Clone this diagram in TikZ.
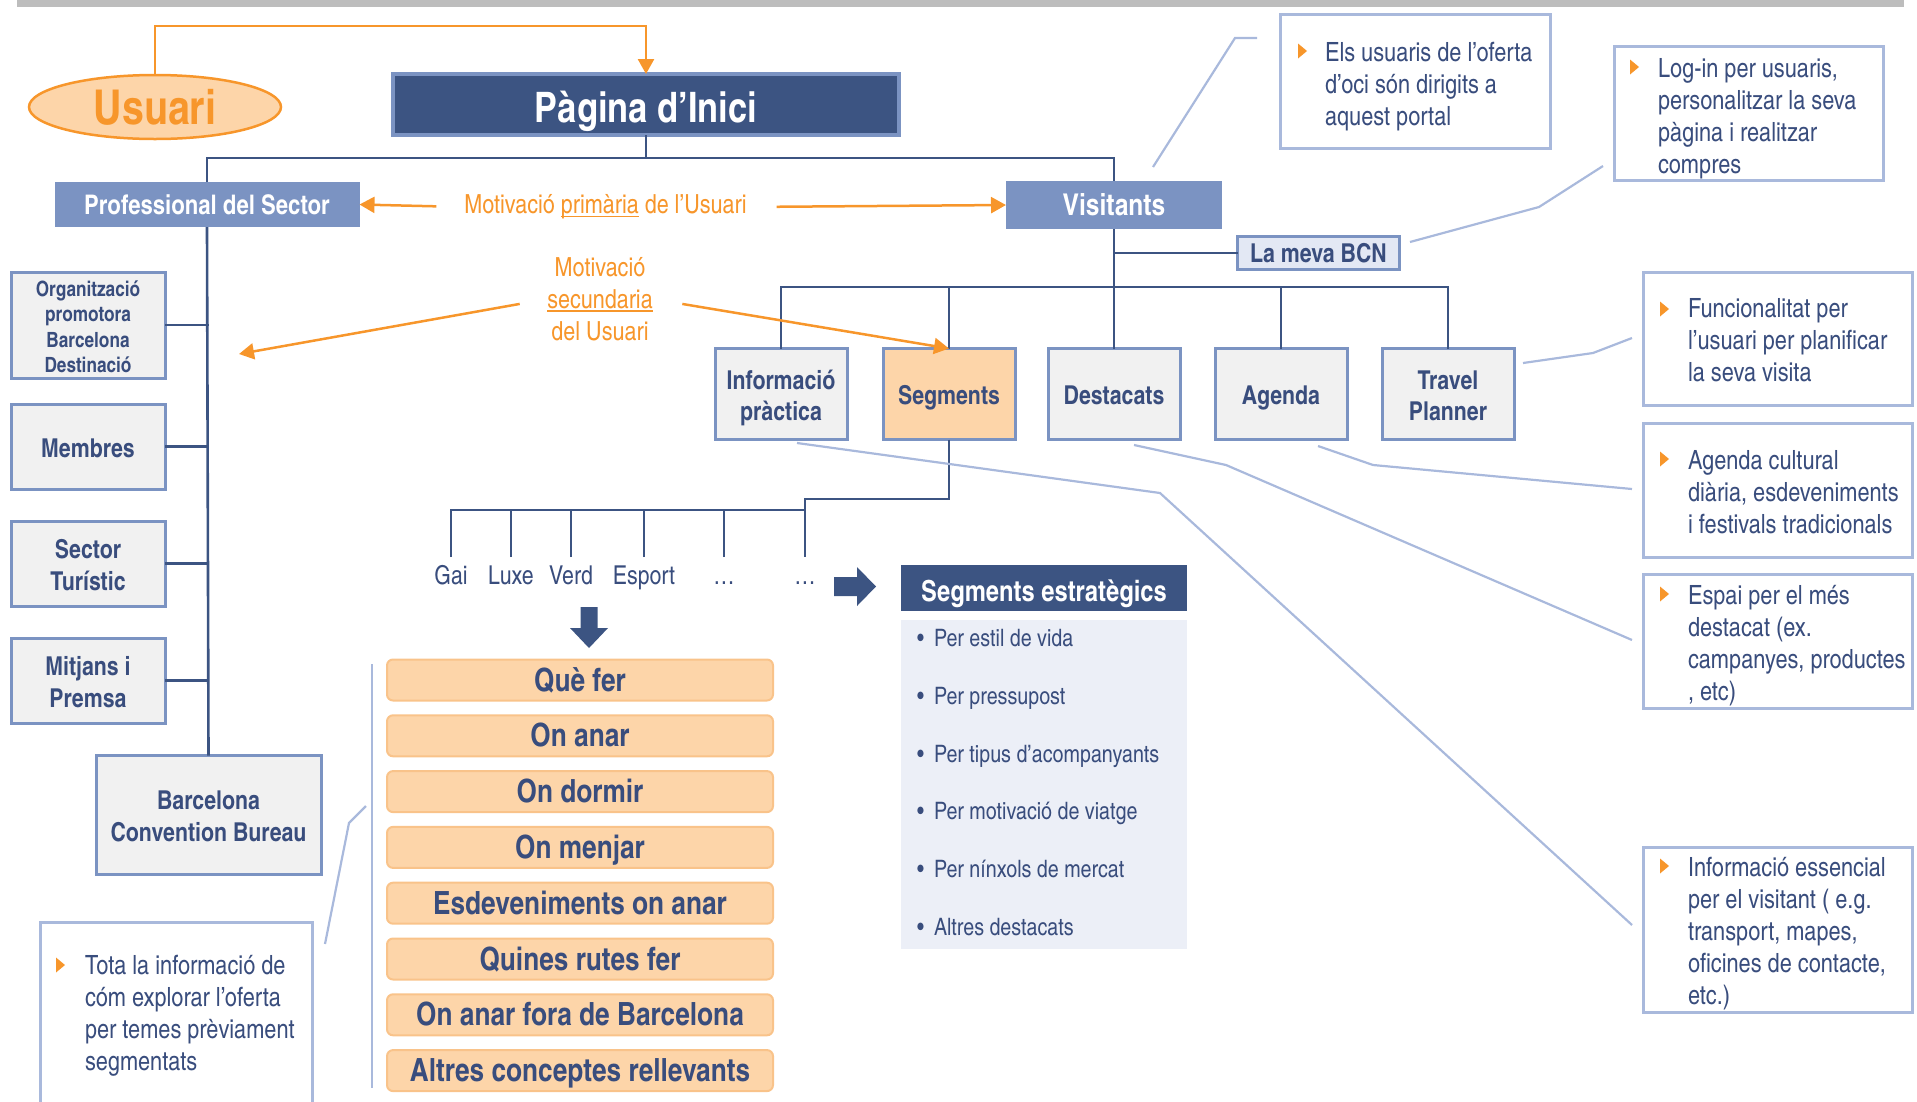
\documentclass[tikz,border=0pt]{standalone}
\usepackage{fontspec}
\setmainfont{texgyreheroscn}[Extension=.otf,UprightFont=*-regular,BoldFont=*-bold,ItalicFont=*-italic,BoldItalicFont=*-bolditalic]
\usetikzlibrary{arrows.meta,shapes.geometric}
\definecolor{navy}{HTML}{3C5482}
\definecolor{midblue}{HTML}{7B93C2}
\definecolor{paleblue}{HTML}{A9B9DC}
\definecolor{panelfill}{HTML}{ECEFF7}
\definecolor{boxfill}{HTML}{F1F1F1}
\definecolor{lavender}{HTML}{E3E8F4}
\definecolor{orng}{HTML}{F7962B}
\definecolor{peach}{HTML}{FDD5A9}
\definecolor{peachedge}{HTML}{F9C38A}
\definecolor{ink}{HTML}{394D7D}
\definecolor{bargray}{HTML}{BDBDBD}
\newcommand{\fsz}[2]{\fontsize{#1}{#2}\selectfont}
% underline drawn just under the baseline
\newcommand{\undl}[1]{\setbox0\hbox{#1}\rlap{\rule[-3.5pt]{\wd0}{1.8pt}}\box0\relax}
% fixed line extents so box labels sit at the same height
\newcommand{\toprl}{\rule{0pt}{28pt}}
\newcommand{\botrl}{\rule[-7pt]{0pt}{7pt}}
\newcommand{\toprls}{\rule{0pt}{24pt}}
\newcommand{\botrls}{\rule[-5.5pt]{0pt}{5.5pt}}
\tikzset{
  every node/.style={inner sep=0pt, outer sep=0pt},
  linkline/.style={draw=navy, line width=2.6pt},
  leadline/.style={draw=paleblue, line width=2.2pt},
  motive/.style={draw=orng, line width=2.5pt, -{Triangle[length=15pt,width=16pt]}},
  motivetext/.style={text=orng, font=\fsz{26.3}{32}, align=center},
  tier/.style={fill=midblue, text=white, font=\bfseries\fsz{27}{32}},
  orgbox/.style={draw=midblue, line width=3pt, fill=boxfill, text=ink, font=\bfseries\fsz{26}{32}, align=center},
  childbox/.style={orgbox, minimum width=132pt, minimum height=91pt, font=\bfseries\fsz{26}{31}},
  topicbar/.style={draw=peachedge, line width=2pt, fill=peach, rounded corners=6pt, minimum width=386pt, minimum height=41pt, text=ink, font=\bfseries\fsz{32}{36}, text height=26pt, text depth=4pt},
  calloutbox/.style={draw=paleblue, line width=3pt},
  callouttext/.style={anchor=north west, align=left, text=ink, font=\fsz{26.5}{32}},
  seglabel/.style={text=ink, font=\fsz{26}{31}, text height=18pt, text depth=6pt, inner ysep=9pt},
  segitem/.style={anchor=west, text=ink, font=\fsz{24}{28}, text height=17pt, text depth=5pt},
  tick/.pic={\fill[orng] (-4,-7.5) -- (5,0) -- (-4,7.5) -- cycle;}
}
\begin{document}
\begin{tikzpicture}[x=1pt, y=-1pt]
\useasboundingbox (0,0) rectangle (1917,1101);
\fill[bargray] (17,0) rectangle (1904,7);

% ---------- top level ----------
\node[ellipse, draw=orng, line width=2.5pt, fill=peach, minimum width=252pt, minimum height=64pt,
      text=orng, font=\bfseries\fsz{48}{52}] (usr) at (155,107) {Usuari};
\node[draw=midblue, line width=3.5pt, fill=navy, minimum width=506pt, minimum height=61pt,
      text=white, font=\bfseries\fsz{42}{48}, text height=38pt, text depth=3pt] (home) at (646,104.5) {Pàgina d’Inici};
\coordinate (loop) at (155,26);
\draw[motive] (usr.north) -- (loop) -| (home.north);

\node[tier, minimum width=305pt, minimum height=45pt] (prof) at (207,204.5) {Professional del Sector};
\node[tier, minimum width=216pt, minimum height=48pt, font=\bfseries\fsz{30}{34}] (vis) at (1114,205) {Visitants};
\coordinate (hub) at (646,158);
\draw[linkline] (home.south) -- (hub);
\draw[linkline] (prof.north) |- (hub) -| (vis.north);

% ---------- professional branch ----------
\node[orgbox, minimum width=154pt, minimum height=106pt, font=\bfseries\fsz{21}{25.5}] (org) at (88,325) {\toprls Organització\\promotora\\Barcelona\\Destinació\botrls};
\node[orgbox, minimum width=154pt, minimum height=85pt] (memb) at (88,446.5) {\toprl Membres\botrl};
\node[orgbox, minimum width=154pt, minimum height=85pt] (sect) at (88,563.5) {\toprl Sector\\Turístic\botrl};
\node[orgbox, minimum width=154pt, minimum height=85pt] (mitj) at (88,680.5) {\toprl Mitjans i\\Premsa\botrl};
\node[orgbox, minimum width=225pt, minimum height=119pt] (bcb) at (208.5,815) {\toprl Barcelona\\Convention Bureau\botrl};
\draw[linkline] (prof.south) -- (bcb.north);
\foreach \b in {org,memb,sect,mitj}
  \draw[linkline] (\b.east) -- (\b.east -| bcb.north);

% ---------- visitor branch ----------
\node[draw=midblue, line width=2.5pt, fill=lavender, minimum width=162pt, minimum height=33pt,
      text=ink, font=\bfseries\fsz{26}{30}] (meva) at (1318.5,253) {La meva BCN};
\draw[linkline] (meva.west) -- (meva.west -| vis.south);

\node[childbox] (info) at (781,394) {\toprl Informació\\pràctica\botrl};
\node[childbox, fill=peach] (segm) at (949,394) {\toprl Segments\botrl};
\node[childbox] (dest) at (1114,394) {\toprl Destacats\botrl};
\node[childbox] (agen) at (1281,394) {\toprl Agenda\botrl};
\node[childbox] (trav) at (1448,394) {\toprl Travel\\Planner\botrl};
\coordinate (vhub) at (1114,287);
\draw[linkline] (vis.south) -- (dest.north);
\draw[linkline] (info.north) |- (vhub) -| (trav.north);
\draw[linkline] (segm.north) -- (segm.north |- vhub);
\draw[linkline] (agen.north) -- (agen.north |- vhub);

% ---------- motivation arrows ----------
\node[motivetext] (prim) at (605.5,207) {Motivació \undl{primària} de l’Usuari};
\draw[motive, shorten <=28pt] (prim.west) -- (prof.east);
\draw[motive, shorten <=30pt] (prim.east) -- (vis.west);
\node[motivetext] (sec) at (600,299) {Motivació\\\undl{secundaria}\\del Usuari};
\coordinate (sectip) at (239,354);
\draw[motive, shorten <=28pt] (sec.west) -- (sectip);
\draw[motive, shorten <=30pt] (sec.east) -- (segm.north);

% ---------- segment types ----------
\node[seglabel] (gai) at (451,578) {Gai};
\node[seglabel] (luxe) at (511,578) {Luxe};
\node[seglabel] (verd) at (571,578) {Verd};
\node[seglabel] (esport) at (644,578) {Esport};
\node[seglabel] (dotsa) at (724,578) {…};
\node[seglabel] (dotsb) at (805,578) {…};
\coordinate (segstep) at (805,499);
\coordinate (segbar) at (805,510);
\draw[linkline] (segm.south) |- (segstep) -- (dotsb.north);
\draw[linkline] (gai.north) |- (segbar);
\foreach \l in {luxe,verd,esport,dotsa}
  \draw[linkline] (\l.north) -- (\l.north |- segbar);

% block arrows
\fill[navy] (580.5,607) -- (597.5,607) -- (597.5,628) -- (608,628) -- (589,648) -- (570,628) -- (580.5,628) -- cycle;
\fill[navy] (834,577) -- (857,577) -- (857,567) -- (876,586.5) -- (857,606) -- (857,596) -- (834,596) -- cycle;

% topics
\foreach \t [count=\i from 0] in {Què fer,On anar,On dormir,On menjar,Esdeveniments on anar,Quines rutes fer,On anar fora de Barcelona,Altres conceptes rellevants}
  \node[topicbar] (topic\i) at (580,680+55.8*\i) {\t};
\draw[leadline] (372,664) -- (372,1088);

% strategic segments
\node[fill=navy, minimum width=286pt, minimum height=46pt, text=white, font=\bfseries\fsz{29}{34},
      text height=30pt, text depth=3pt] (seghead) at (1044,588) {Segments estratègics};
\node[fill=panelfill, minimum width=286pt, minimum height=329pt] (segpanel) at (1044,784.5) {};
\foreach \s [count=\i from 0] in {Per estil de vida,Per pressupost,Per tipus d’acompanyants,Per motivació de viatge,Per nínxols de mercat,Altres destacats}
  \node[segitem] (item\i) at (917,640.5+57.8*\i) {\makebox[17pt][l]{\textbullet}\s};

% ---------- callouts ----------
\node[calloutbox, minimum width=270pt, minimum height=134pt] (c1) at (1415.5,81.5) {};
\pic at (1302,51) {tick};
\node[callouttext] (t1) at (1325,38.6) {\strut Els usuaris de l’oferta\\d’oci són dirigits a\\aquest portal};

\node[calloutbox, minimum width=269pt, minimum height=134pt] (c2) at (1749,113.5) {};
\pic at (1634,67) {tick};
\node[callouttext] (t2) at (1658,54.6) {\strut Log-in per usuaris,\\personalitzar la seva\\pàgina i realitzar\\compres};

\node[calloutbox, minimum width=269pt, minimum height=133pt] (c3) at (1778,339) {};
\pic at (1664,309) {tick};
\node[callouttext] (t3) at (1688,294.6) {\strut Funcionalitat per\\l’usuari per planificar\\la seva visita};

\node[calloutbox, minimum width=269pt, minimum height=134pt] (c4) at (1778,490.5) {};
\pic at (1664,459) {tick};
\node[callouttext] (t4) at (1688,446.6) {\strut Agenda cultural\\diària, esdeveniments\\i festivals tradicionals};

\node[calloutbox, minimum width=269pt, minimum height=134pt] (c5) at (1778,641.5) {};
\pic at (1664,594) {tick};
\node[callouttext] (t5) at (1688,581.6) {\strut Espai per el més\\destacat (ex.\\campanyes, productes\\, etc)};

\node[calloutbox, minimum width=269pt, minimum height=165pt] (c6) at (1778,930) {};
\pic at (1664,866) {tick};
\node[callouttext] (t6) at (1688,853.6) {\strut Informació essencial\\per el visitant ( e.g.\\transport, mapes,\\oficines de contacte,\\etc.)};

\draw[draw=paleblue, line width=3pt] (40,1105) -- (40,922) -- (312,922) -- (312,1105);
\pic at (60,965) {tick};
\node[callouttext] (t7) at (85,951.6) {\strut Tota la informació de\\cóm explorar l’oferta\\per temes prèviament\\segmentats};

% leader lines
\coordinate (la) at (1153,167);  \coordinate (lb) at (1257,38);
\draw[leadline] (la) -- (1235,38) -- (lb);
\coordinate (ma) at (1410,242);  \coordinate (mb) at (1603,166);
\draw[leadline] (ma) -- (1539,207) -- (mb);
\coordinate (na) at (1523,363);  \coordinate (nb) at (1632,338);
\draw[leadline] (na) -- (1593,353) -- (nb);
\coordinate (oa) at (1318,446);  \coordinate (ob) at (1632,489);
\draw[leadline] (oa) -- (1373,465) -- (ob);
\coordinate (pa) at (1134,445);  \coordinate (pb) at (1632,640);
\draw[leadline] (pa) -- (1226,465) -- (pb);
\coordinate (qa) at (797,443);   \coordinate (qb) at (1632,925);
\draw[leadline] (qa) -- (1160,493) -- (qb);
\coordinate (ra) at (366,806);   \coordinate (rb) at (325,944);
\draw[leadline] (ra) -- (349,823) -- (rb);
\end{tikzpicture}
\end{document}
